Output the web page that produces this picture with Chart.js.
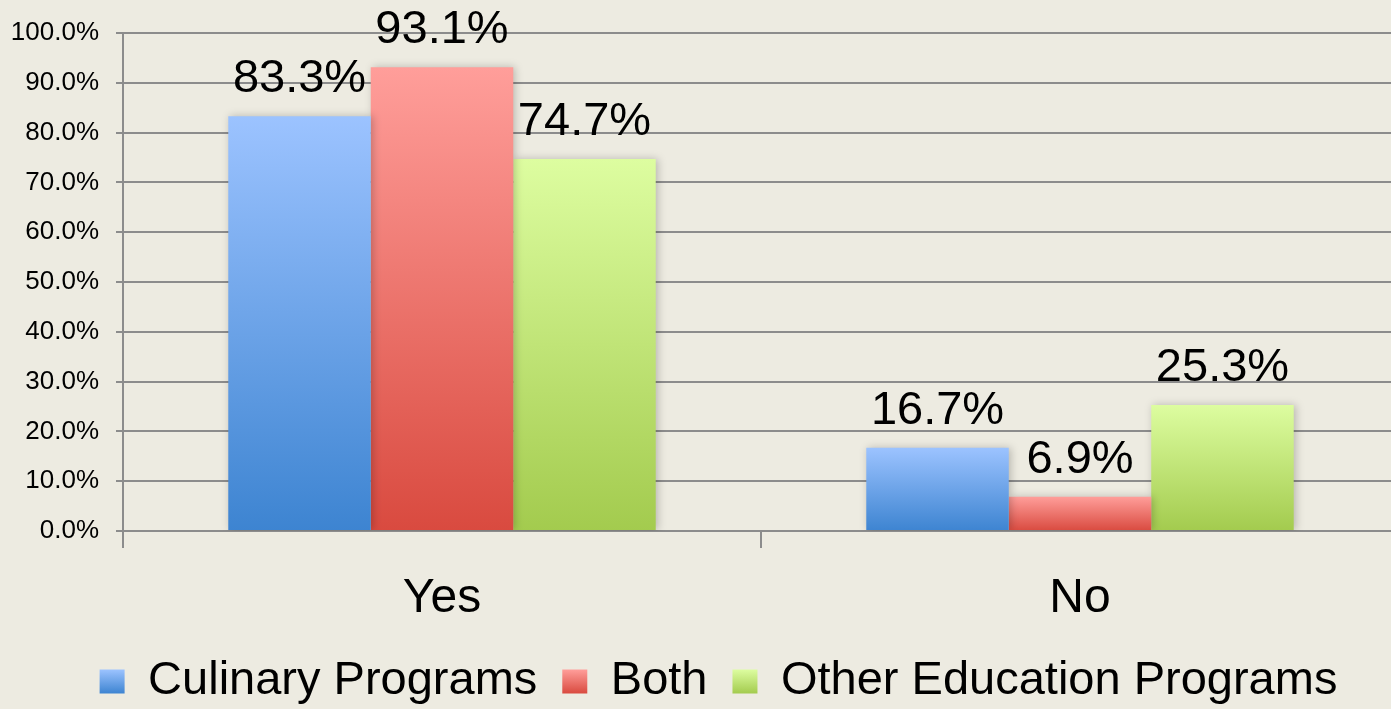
<!DOCTYPE html>
<html>
<head>
<meta charset="utf-8">
<script src="https://cdn.jsdelivr.net/npm/chart.js@4.4.1/dist/chart.umd.min.js"></script>
<style>
    html, body { margin: 0; padding: 0; background: #edebe1; overflow: hidden; }
    #chart { display: block; }
</style>
</head>
<body>
<canvas id="chart" width="1440" height="709"></canvas>
<script>
// data
var categories = ['Yes', 'No'];
var seriesNames = ['Culinary Programs', 'Both', 'Other Education Programs'];
var culinary = [83.3, 16.7];
var both = [93.1, 6.9];
var otherEducation = [74.7, 25.3];
var yTickMax = 100;
var yTickStep = 10;

// colours: top and bottom of each bar gradient
var topColors = ['#9cc3ff', '#ff9e9a', '#ddfda0'];
var bottomColors = ['#3d84d1', '#d94a3f', '#a3cb4e'];

var GRID = '#8c8c8c';
var FONT = '"Liberation Sans", Arial, Helvetica, sans-serif';
var LEGEND_H = 76, LEGEND_PAD = 25, LEGEND_FONT = 47, LEGEND_BOX_W = 25, LEGEND_BOX_H = 24;

Chart.defaults.font.family = FONT;
Chart.defaults.color = '#000';

function barGradient(i) {
    return function (context) {
        var chart = context.chart;
        if (!chart.chartArea || context.type !== 'data') {
            return topColors[i];
        }
        var y = chart.scales.y;
        var g = chart.ctx.createLinearGradient(0, y.getPixelForValue(context.raw), 0, y.getPixelForValue(0));
        g.addColorStop(0, topColors[i]);
        g.addColorStop(1, bottomColors[i]);
        return g;
    };
}

// legend height is fixed so the row sits where the reference has it
var legendHeight = {
    id: 'legendHeight',
    beforeInit: function (chart) {
        var legend = chart.legend;
        var fit = legend.fit;
        legend.fit = function () {
            fit.call(this);
            this.height = LEGEND_H;
        };
    }
};

var barShadow = {
    id: 'barShadow',
    beforeDatasetsDraw: function (chart) {
        var ctx = chart.ctx;
        ctx.save();
        ctx.shadowColor = 'rgba(0,0,0,0.22)';
        ctx.shadowBlur = 8;
        ctx.shadowOffsetX = 2;
        ctx.shadowOffsetY = 0;
    },
    afterDatasetsDraw: function (chart) {
        chart.ctx.restore();
    }
};

var valueLabels = {
    id: 'valueLabels',
    afterDatasetsDraw: function (chart) {
        var ctx = chart.ctx;
        ctx.save();
        ctx.font = '47px ' + FONT;
        ctx.fillStyle = '#000';
        ctx.textAlign = 'center';
        ctx.textBaseline = 'alphabetic';
        chart.data.datasets.forEach(function (ds, i) {
            chart.getDatasetMeta(i).data.forEach(function (bar, j) {
                ctx.fillText(ds.data[j].toFixed(1) + '%', bar.x, bar.y - 24);
            });
        });
        ctx.restore();
    }
};

var seriesData = [culinary, both, otherEducation];

new Chart(document.getElementById('chart'), {
    type: 'bar',
    data: {
        labels: categories,
        datasets: seriesData.map(function (values, i) {
            return {
                label: seriesNames[i],
                data: values,
                backgroundColor: barGradient(i),
                borderWidth: 0,
                categoryPercentage: 0.67,
                barPercentage: 1.0
            };
        })
    },
    options: {
        responsive: false,
        animation: false,
        layout: { padding: { left: 38, right: 41, top: 33, bottom: 0 } },
        scales: {
            x: {
                afterFit: function (scale) { scale.height = 709 - LEGEND_H - 531; },
                grid: { display: true, drawOnChartArea: false, offset: true, color: GRID, lineWidth: 2, tickLength: 17 },
                border: { display: true, color: GRID, width: 2 },
                ticks: { font: { size: 48 }, padding: 22, color: '#000' }
            },
            y: {
                min: 0,
                max: yTickMax,
                afterFit: function (scale) {
                    scale.width = 85;
                    // tick labels reach left of the layout padding, don't clip them
                    scale._computeLabelArea = function () { return undefined; };
                },
                grid: { color: GRID, lineWidth: 2, tickLength: 7 },
                border: { display: true, color: GRID, width: 2 },
                ticks: {
                    stepSize: yTickStep,
                    padding: 17,
                    font: { size: 26 },
                    color: '#000',
                    callback: function (v) { return v.toFixed(1) + '%'; }
                }
            }
        },
        plugins: {
            tooltip: { enabled: false },
            legend: {
                position: 'bottom',
                labels: {
                    font: { size: LEGEND_FONT },
                    color: '#000',
                    padding: LEGEND_PAD,
                    boxWidth: LEGEND_BOX_W,
                    boxHeight: LEGEND_BOX_H,
                    generateLabels: function (chart) {
                        var boxTop = chart.height - LEGEND_H + LEGEND_PAD + (LEGEND_FONT - LEGEND_BOX_H) / 2;
                        return chart.data.datasets.map(function (ds, i) {
                            var g = chart.ctx.createLinearGradient(0, boxTop, 0, boxTop + LEGEND_BOX_H);
                            g.addColorStop(0, topColors[i]);
                            g.addColorStop(1, bottomColors[i]);
                            return {
                                text: ds.label,
                                fillStyle: g,
                                strokeStyle: 'rgba(0,0,0,0)',
                                lineWidth: 0,
                                hidden: !chart.isDatasetVisible(i),
                                datasetIndex: i
                            };
                        });
                    }
                }
            }
        }
    },
    plugins: [legendHeight, barShadow, valueLabels]
});
</script>
</body>
</html>
